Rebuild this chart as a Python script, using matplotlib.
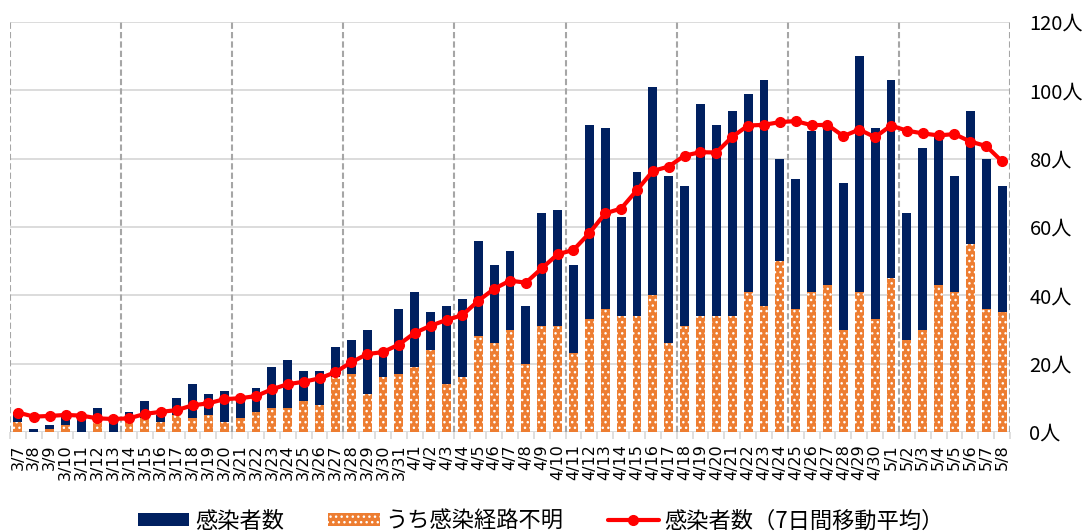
import matplotlib
matplotlib.use("Agg")
import matplotlib.pyplot as plt
import numpy as np

plt.rcParams['font.family'] = ['Noto Sans CJK JP', 'DejaVu Sans']

dates = ["3/7", "3/8", "3/9", "3/10", "3/11", "3/12", "3/13",
         "3/14", "3/15", "3/16", "3/17", "3/18", "3/19", "3/20",
         "3/21", "3/22", "3/23", "3/24", "3/25", "3/26", "3/27",
         "3/28", "3/29", "3/30", "3/31", "4/1", "4/2", "4/3",
         "4/4", "4/5", "4/6", "4/7", "4/8", "4/9", "4/10",
         "4/11", "4/12", "4/13", "4/14", "4/15", "4/16", "4/17",
         "4/18", "4/19", "4/20", "4/21", "4/22", "4/23", "4/24",
         "4/25", "4/26", "4/27", "4/28", "4/29", "4/30", "5/1",
         "5/2", "5/3", "5/4", "5/5", "5/6", "5/7", "5/8"]

total = [6, 1, 2, 5, 5, 7, 3,
         6, 9, 5, 10, 14, 11, 12,
         10, 13, 19, 21, 18, 18, 25,
         27, 30, 24, 36, 41, 35, 37,
         39, 56, 49, 53, 37, 64, 65,
         49, 90, 89, 63, 76, 101, 75,
         72, 96, 90, 94, 99, 103, 80,
         74, 88, 89, 73, 110, 89, 103,
         64, 83, 87, 75, 94, 80, 72]

unknown = [3, 0, 1, 2, 0, 3, 0,
           4, 4, 3, 5, 4, 5, 3,
           4, 6, 7, 7, 9, 8, 16,
           17, 11, 16, 17, 19, 24, 14,
           16, 28, 26, 30, 20, 31, 31,
           23, 33, 36, 34, 34, 40, 26,
           31, 34, 34, 34, 41, 37, 50,
           36, 41, 43, 30, 41, 33, 45,
           27, 30, 43, 41, 55, 36, 35]

avg7 = [5.7, 4.5, 4.7, 5.0, 4.8, 4.0, 3.8,
        4.0, 5.3, 5.9, 6.4, 7.8, 8.4, 9.6,
        9.9, 10.5, 12.5, 14.0, 14.7, 15.7, 17.5,
        20.4, 22.8, 23.4, 25.6, 29.0, 31.1, 32.8,
        34.2, 38.4, 41.9, 44.3, 43.7, 47.9, 52.0,
        53.3, 58.2, 64.0, 65.4, 70.8, 76.4, 77.7,
        80.9, 81.9, 81.8, 86.4, 89.7, 89.9, 90.7,
        91.0, 89.8, 89.9, 86.6, 88.5, 86.3, 89.7,
        88.2, 87.4, 86.8, 87.2, 85.0, 83.7, 79.2]

yticks = [0, 20, 40, 60, 80, 100, 120]
ytick_labels = [f"{v}人" for v in yticks]

legend_labels = ["感染者数", "うち感染経路不明", "感染者数（7日間移動平均）"]

NAVY = "#002060"
ORANGE = "#ED7D31"
RED = "#FF0000"

fig = plt.figure(figsize=(10.91, 5.31), dpi=100)
ax = fig.add_axes([10/1091, 1 - 432/531, 1000/1091, 410/531])

x = np.arange(len(dates))
bw = 0.56
b1 = ax.bar(x, total, width=bw, color=NAVY, zorder=2, linewidth=0)
b2 = ax.bar(x, unknown, width=bw, color=ORANGE, edgecolor="white",
            linewidth=0, hatch="...", zorder=3)
ln, = ax.plot(x, avg7, color=RED, lw=3, marker="o", markersize=7,
              zorder=5, solid_capstyle="round")

ax.set_xlim(-0.5, len(dates) - 0.5)
ax.set_ylim(0, 120)

# horizontal gridlines
for v in yticks:
    ax.axhline(v, color="#D9D9D9", lw=1.3, zorder=1)
# weekly dashed separators
for k in range(0, len(dates) + 1, 7):
    ax.axvline(k - 0.5, color="#A6A6A6", lw=1.5, ls=(0, (3, 1.5)), zorder=4)

for s in ax.spines.values():
    s.set_visible(False)

ax.yaxis.tick_right()
ax.set_yticks(yticks)
ax.set_yticklabels(ytick_labels, fontsize=14.5)
ax.tick_params(axis="y", length=0, pad=14)

ax.set_xticks(x)
ax.set_xticklabels(dates, rotation=90, fontsize=11.5, family="DejaVu Sans")
ax.tick_params(axis="x", length=0, pad=9)
ax.set_xticks(np.arange(len(dates) + 1) - 0.5, minor=True)
ax.tick_params(axis="x", which="minor", length=5, color="#D9D9D9", width=1.2)

leg = fig.legend([b1, b2, ln], legend_labels, loc="center",
                 bbox_to_anchor=(541/1091, 1 - 521/531), ncol=3, frameon=False,
                 fontsize=16, handlelength=2.3, handleheight=0.5,
                 handletextpad=0.25, columnspacing=2.0, numpoints=1,
                 borderaxespad=0, borderpad=0)

fig.savefig("out.png", dpi=100)
